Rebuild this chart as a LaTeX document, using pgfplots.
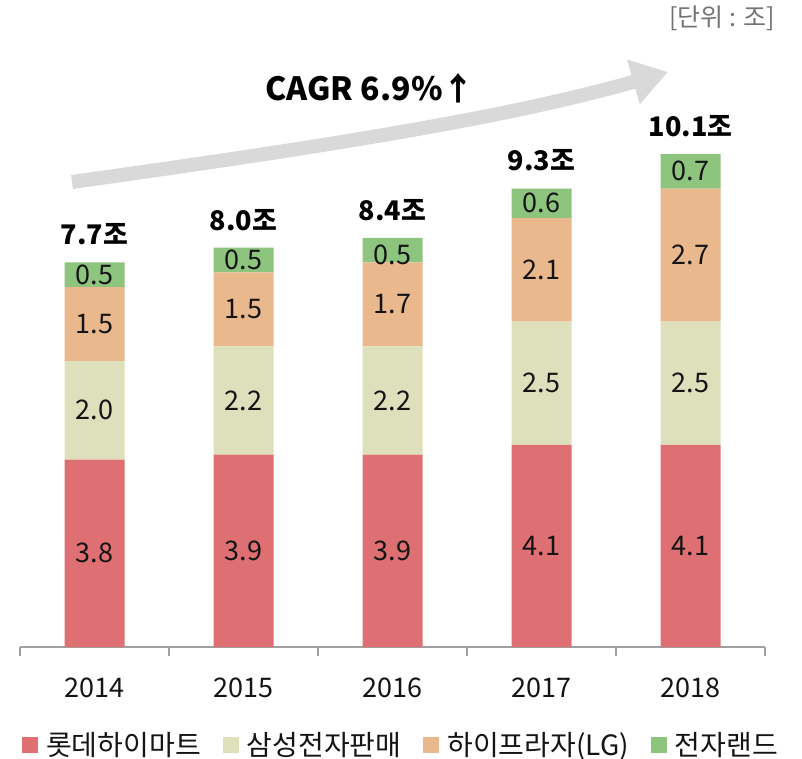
\documentclass[border=0pt]{standalone}
\usepackage{fontspec}
\setmainfont{Noto Sans CJK KR}
\usepackage{pgfplots}
\pgfplotsset{compat=1.18}
\usetikzlibrary{arrows.meta}
\definecolor{cRed}{RGB}{222,111,114}
\definecolor{cCream}{RGB}{221,224,187}
\definecolor{cOrange}{RGB}{233,184,141}
\definecolor{cGreen}{RGB}{141,196,126}
\definecolor{cAxis}{RGB}{160,160,160}
\definecolor{cArrow}{RGB}{217,217,217}
\definecolor{cText}{RGB}{20,20,20}
\newcommand{\fs}[1]{\fontsize{#1}{#1}\selectfont}
\pgfplotsset{
  common/.style={
    at={(10pt,-323.5pt)}, anchor=south west,
    scale only axis, width=372.5pt, height=295.8pt,
    xmin=-0.5, xmax=4.5, ymin=0, ymax=12,
  }
}
\begin{document}
\begin{tikzpicture}
\path[use as bounding box] (0,0) rectangle (401pt,-379.5pt);
% growth arrow
\draw[cArrow, line width=7pt, -{Triangle[length=18pt,width=22pt]}]
  (36pt,-91pt) .. controls (150pt,-75pt) and (250pt,-60pt) .. (334pt,-36pt);
\node[font=\fs{16pt}\bfseries, text=black] at (185pt,-44pt) {CAGR 6.9\%↑};
\node[anchor=east, font=\fs{12.5pt}, text=black!55] at (391pt,-9pt) {[단위 : 조]};
\begin{axis}[common,
  ybar stacked, bar width=30pt,
  axis x line*=bottom, hide y axis,
  axis line style={cAxis, line width=0.8pt},
  xtick={0,1,2,3,4},
  xticklabels={2014,2015,2016,2017,2018},
  major tick length=0pt,
  xticklabel style={anchor=center, yshift=-20.5pt, font=\fs{13.5pt}, text=cText},
  extra x ticks={-0.5,0.5,1.5,2.5,3.5,4.5},
  extra x tick labels={},
  extra x tick style={major tick length=4.5pt, tick align=outside, tick style={cAxis, line width=0.8pt}},
  /pgf/number format/assume math mode=true,
  legend image code/.code={\fill[#1] (0pt,-4pt) rectangle (8pt,4pt); \path (11pt,0pt);},
  legend style={at={(0.5114,-0.1657)}, anchor=center, draw=none, fill=none,
    legend columns=4, font=\fs{14pt}, text=cText,
    /tikz/every even column/.append style={column sep=10pt},
    nodes={inner sep=1pt}},
]
\addplot[fill=cRed, draw=none] coordinates {(0,3.8) (1,3.9) (2,3.9) (3,4.1) (4,4.1)};
\addlegendentry{롯데하이마트}
\addplot[fill=cCream, draw=none] coordinates {(0,2.0) (1,2.2) (2,2.2) (3,2.5) (4,2.5)};
\addlegendentry{삼성전자판매}
\addplot[fill=cOrange, draw=none] coordinates {(0,1.5) (1,1.5) (2,1.7) (3,2.1) (4,2.7)};
\addlegendentry{하이프라자(LG)}
\addplot[fill=cGreen, draw=none] coordinates {(0,0.5) (1,0.5) (2,0.5) (3,0.6) (4,0.7)};
\addlegendentry{전자랜드}
\end{axis}
\begin{axis}[common, hide axis,
  nodes near coords, point meta=explicit symbolic,
  nodes near coords align={center},
  every node near coord/.append style={font=\fs{13.5pt}, text=cText},
]
\addplot[draw=none, mark=none] coordinates {
 (0,1.9)[3.8] (1,1.95)[3.9] (2,1.95)[3.9] (3,2.05)[4.1] (4,2.05)[4.1]};
\addplot[draw=none, mark=none] coordinates {
 (0,4.8)[2.0] (1,5.0)[2.2] (2,5.0)[2.2] (3,5.35)[2.5] (4,5.35)[2.5]};
\addplot[draw=none, mark=none] coordinates {
 (0,6.55)[1.5] (1,6.85)[1.5] (2,6.95)[1.7] (3,7.65)[2.1] (4,7.95)[2.7]};
\addplot[draw=none, mark=none] coordinates {
 (0,7.55)[0.5] (1,7.85)[0.5] (2,7.95)[0.5] (3,9.0)[0.6] (4,9.65)[0.7]};
\addplot[draw=none, mark=none,
  every node near coord/.append style={font=\fs{13.5pt}\bfseries, text=black, yshift=14pt}] coordinates {
 (0,7.8)[7.7조] (1,8.1)[8.0조] (2,8.3)[8.4조] (3,9.3)[9.3조] (4,10.0)[10.1조]};
\end{axis}
\end{tikzpicture}
\end{document}
